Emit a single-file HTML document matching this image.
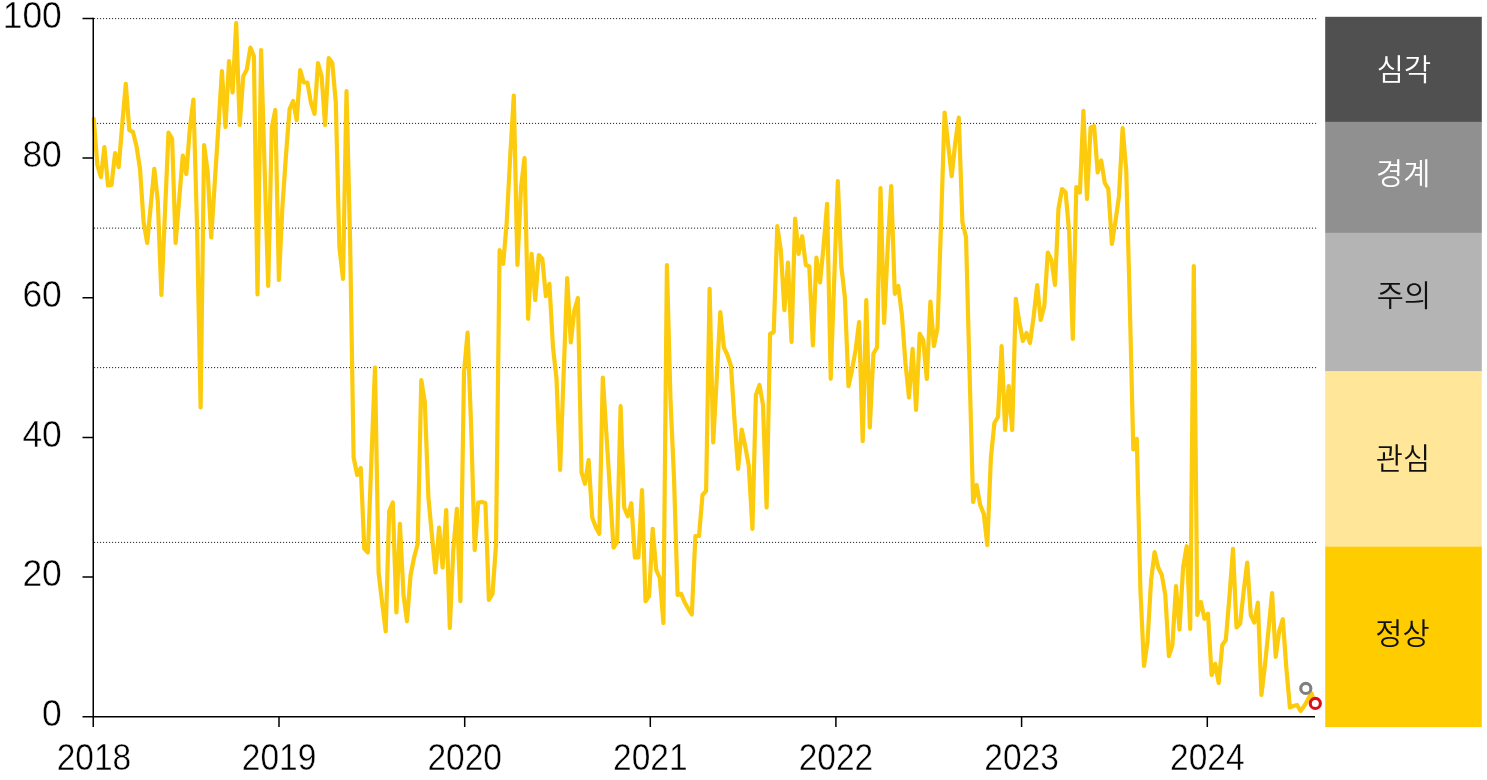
<!DOCTYPE html>
<html><head><meta charset="utf-8"><title>chart</title>
<style>
html,body{margin:0;padding:0;background:#fff;}
body{width:1487px;height:780px;overflow:hidden;position:relative;font-family:"Liberation Sans","NanumGothic","Noto Sans CJK KR",sans-serif;}
svg{position:absolute;left:0;top:0;}
.ax{font-size:37.5px;fill:#000;stroke:#fff;stroke-width:0.45px;font-family:"Liberation Sans","DejaVu Sans",sans-serif;}
.lg{font-size:29.5px;font-weight:350;font-family:"Liberation Sans","Noto Sans CJK KR","NanumGothic",sans-serif;}
</style></head><body>
<svg width="1487" height="780" viewBox="0 0 1487 780">
<g stroke="#1a1a1a" stroke-width="1.25" stroke-dasharray="0.01 2.99" stroke-linecap="round" fill="none">
<line x1="94.6" y1="18.5" x2="1316.4" y2="18.5"/>
<line x1="94.6" y1="123.3" x2="1316.4" y2="123.3"/>
<line x1="94.6" y1="228" x2="1316.4" y2="228"/>
<line x1="94.6" y1="367.5" x2="1316.4" y2="367.5"/>
<line x1="94.6" y1="542.3" x2="1316.4" y2="542.3"/>
</g>
<g>
<rect x="1325.2" y="16.8" width="156.6" height="105.2" fill="#505050"/>
<rect x="1325.2" y="121.8" width="156.6" height="111.2" fill="#909090"/>
<rect x="1325.2" y="232.8" width="156.6" height="138.7" fill="#b4b4b4"/>
<rect x="1325.2" y="371.3" width="156.6" height="175.5" fill="#ffe699"/>
<rect x="1325.2" y="546.6" width="156.6" height="180.5" fill="#ffcc00"/>
</g>
<g class="lg" text-anchor="middle">
<text x="1404" y="80" fill="#fff">심각</text>
<text x="1403.2" y="184" fill="#fff">경계</text>
<text x="1404" y="305.5" fill="#111">주의</text>
<text x="1403" y="469" fill="#111">관심</text>
<text x="1402.5" y="643.5" fill="#111">정상</text>
</g>
<polyline points="93.8,118.8 97.3,165.0 100.9,177.0 104.4,147.0 108.0,185.5 111.5,185.0 115.1,153.0 118.7,167.0 122.2,125.0 125.8,83.8 129.3,130.0 132.9,131.8 136.5,146.2 140.0,168.8 143.6,222.0 147.2,243.0 150.7,206.0 154.3,168.8 157.8,201.0 161.4,295.0 164.9,214.0 168.5,132.5 172.1,138.8 175.6,243.0 179.2,199.0 182.8,155.5 186.3,174.0 189.9,128.0 193.4,99.5 197.0,225.0 200.6,407.5 204.1,145.0 207.7,172.0 211.2,237.5 214.8,182.0 218.4,127.0 221.9,71.2 225.5,127.0 229.0,61.2 232.6,92.5 236.2,23.0 239.7,125.0 243.3,76.2 246.8,69.5 250.4,47.5 253.9,56.2 257.5,294.5 261.1,50.0 264.6,168.0 268.2,286.0 271.8,127.5 275.3,110.0 278.9,280.0 282.4,207.0 286.0,155.0 289.6,109.0 293.1,101.0 296.7,120.0 300.2,70.0 303.8,82.5 307.4,82.5 310.9,102.5 314.5,113.8 318.0,63.2 321.6,76.2 325.1,125.0 328.7,58.0 332.3,63.0 335.8,102.5 339.4,247.0 343.0,278.8 346.5,91.2 350.1,240.0 353.6,457.5 357.2,475.0 360.8,468.0 364.3,548.8 367.9,552.5 371.4,460.0 375.0,367.5 378.6,572.5 382.1,602.5 385.7,631.2 389.2,511.0 392.8,502.5 396.4,612.5 399.9,523.8 403.5,595.0 407.0,621.2 410.6,575.0 414.1,557.5 417.7,543.8 421.3,380.0 424.8,402.0 428.4,497.5 431.9,535.0 435.5,572.5 439.1,527.5 442.6,567.5 446.2,510.0 449.8,628.0 453.3,550.0 456.9,508.8 460.4,601.2 464.0,372.5 467.6,332.5 471.1,425.0 474.7,550.0 478.2,502.5 481.8,502.0 485.4,503.0 488.9,600.0 492.5,593.8 496.0,545.0 499.6,250.0 503.2,263.8 506.7,222.5 510.3,155.0 513.8,95.5 517.4,265.0 521.0,187.5 524.5,158.0 528.1,318.8 531.6,253.8 535.2,300.0 538.8,255.0 542.3,258.8 545.9,296.2 549.4,283.8 553.0,347.5 556.5,378.8 560.1,470.0 563.7,372.5 567.2,278.0 570.8,342.5 574.4,310.0 577.9,298.0 581.5,472.5 585.0,483.8 588.6,460.0 592.2,517.5 595.7,527.0 599.3,533.8 602.8,377.5 606.4,434.0 610.0,491.0 613.5,547.5 617.1,542.0 620.6,406.2 624.2,507.5 627.8,516.2 631.3,503.2 634.9,557.5 638.4,557.5 642.0,490.0 645.5,601.2 649.1,596.0 652.7,528.8 656.2,570.0 659.8,578.0 663.4,623.0 666.9,265.0 670.5,400.0 674.0,478.0 677.6,595.0 681.1,593.8 684.7,602.5 688.3,608.8 691.8,614.5 695.4,536.2 699.0,536.0 702.5,495.0 706.1,491.0 709.6,288.8 713.2,442.5 716.8,377.0 720.3,312.0 723.9,347.5 727.4,355.0 731.0,366.0 734.5,420.0 738.1,468.8 741.7,429.5 745.2,446.0 748.8,466.0 752.4,528.8 755.9,395.0 759.5,385.0 763.0,405.0 766.6,507.5 770.1,333.8 773.7,332.0 777.3,226.2 780.8,250.0 784.4,310.0 788.0,262.5 791.5,342.0 795.1,218.5 798.6,253.8 802.2,236.2 805.8,265.0 809.3,266.5 812.9,345.5 816.4,257.5 820.0,282.5 823.5,247.0 827.1,203.8 830.7,378.8 834.2,280.0 837.8,181.2 841.4,267.5 844.9,297.5 848.5,386.2 852.0,370.0 855.6,350.0 859.1,322.0 862.7,441.2 866.3,300.0 869.8,427.5 873.4,353.8 877.0,347.5 880.5,188.0 884.1,323.0 887.6,250.0 891.2,186.0 894.8,293.8 898.3,286.0 901.9,315.0 905.4,362.5 909.0,397.5 912.6,348.8 916.1,410.0 919.7,333.8 923.2,340.0 926.8,378.8 930.4,301.5 933.9,346.0 937.5,328.0 941.0,225.0 944.6,112.5 948.1,144.0 951.7,176.2 955.3,142.0 958.8,117.5 962.4,222.0 966.0,237.0 969.5,370.0 973.1,502.0 976.6,485.0 980.2,505.0 983.8,514.0 987.3,545.0 990.9,457.5 994.4,423.0 998.0,417.0 1001.6,346.0 1005.1,430.0 1008.7,386.0 1012.2,430.0 1015.8,298.8 1019.4,322.5 1022.9,341.0 1026.5,333.0 1030.0,343.0 1033.6,317.0 1037.2,285.0 1040.7,320.0 1044.3,306.0 1047.8,252.5 1051.4,260.0 1055.0,285.0 1058.5,208.5 1062.1,189.0 1065.6,192.2 1069.2,232.5 1072.8,339.0 1076.3,187.0 1079.9,192.5 1083.4,110.8 1087.0,198.8 1090.6,127.5 1094.1,126.2 1097.7,172.5 1101.2,160.5 1104.8,183.0 1108.3,188.8 1111.9,243.8 1115.5,221.0 1119.0,196.2 1122.6,128.0 1126.2,170.0 1129.7,300.0 1133.3,449.5 1136.8,438.8 1140.4,590.0 1144.0,666.0 1147.5,642.0 1151.1,580.0 1154.6,552.0 1158.2,567.5 1161.8,575.0 1165.3,595.0 1168.9,656.2 1172.4,645.0 1176.0,586.2 1179.5,629.5 1183.1,567.5 1186.7,546.2 1190.2,628.8 1193.8,266.0 1197.3,615.0 1200.9,602.0 1204.5,618.8 1208.0,613.8 1211.6,675.0 1215.2,663.8 1218.7,683.0 1222.3,645.0 1225.8,640.0 1229.4,597.5 1233.0,548.8 1236.5,627.5 1240.1,623.8 1243.6,592.0 1247.2,562.5 1250.8,615.0 1254.3,622.5 1257.9,602.5 1261.4,695.0 1265.0,665.0 1268.5,630.0 1272.1,593.0 1275.7,656.8 1279.2,631.0 1282.8,619.2 1286.3,667.5 1289.9,707.5 1293.5,706.0 1297.0,705.0 1300.6,711.0 1304.2,706.0 1307.7,700.0 1311.3,693.0 1314.8,703.0" fill="none" stroke="#fccb0d" stroke-width="4.2" stroke-linejoin="round" stroke-linecap="round"/>
<g stroke="#000" stroke-width="1.5" fill="none">
<line x1="93.25" y1="17.8" x2="93.25" y2="727"/>
<line x1="82.5" y1="716.8" x2="1315" y2="716.8"/>
<path d="M82.5 18.5H93.25M82.5 158.1H93.25M82.5 297.8H93.25M82.5 437.4H93.25M82.5 577.1H93.25"/>
<path d="M279 716.8V727M464.7 716.8V727M650.3 716.8V727M835.9 716.8V727M1021.6 716.8V727M1207.3 716.8V727"/>
</g>
<g class="ax" text-anchor="end">
<text transform="translate(61.8 27.8) scale(0.945 1)">100</text>
<text transform="translate(61.8 167.4) scale(0.945 1)">80</text>
<text transform="translate(61.8 307.1) scale(0.945 1)">60</text>
<text transform="translate(61.8 446.7) scale(0.945 1)">40</text>
<text transform="translate(61.8 586.4) scale(0.945 1)">20</text>
<text transform="translate(61.8 726.1) scale(0.945 1)">0</text>
</g>
<g class="ax" text-anchor="middle">
<text transform="translate(93.9 769.8) scale(0.893 1)">2018</text>
<text transform="translate(279 769.8) scale(0.893 1)">2019</text>
<text transform="translate(464.7 769.8) scale(0.893 1)">2020</text>
<text transform="translate(650.3 769.8) scale(0.893 1)">2021</text>
<text transform="translate(835.9 769.8) scale(0.893 1)">2022</text>
<text transform="translate(1021.6 769.8) scale(0.893 1)">2023</text>
<text transform="translate(1207.3 769.8) scale(0.893 1)">2024</text>
</g>
<circle cx="1305.8" cy="688.4" r="5.05" fill="#fff" stroke="#7f7f7f" stroke-width="3.1"/>
<circle cx="1315.3" cy="703.4" r="5.05" fill="#fff" stroke="#dc0f19" stroke-width="3.1"/>
</svg>
</body></html>
